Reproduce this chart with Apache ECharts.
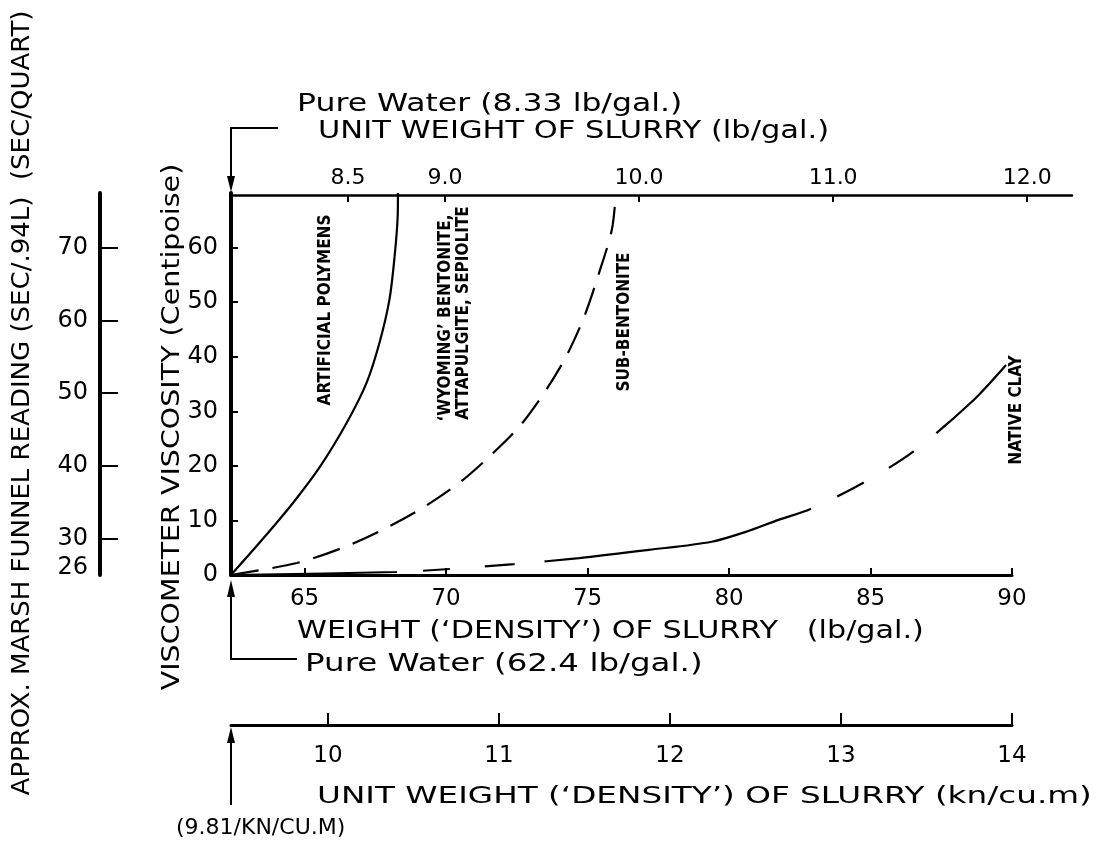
<!DOCTYPE html>
<html>
<head>
<meta charset="utf-8">
<script src="https://cdn.jsdelivr.net/npm/echarts@6/dist/echarts.min.js"></script>
<style>html,body{margin:0;padding:0;background:#fff}#c{width:1098px;height:848px}</style>
</head>
<body>
<div id="c"></div>
<script>
// ---- tick labels ----
const densityTicks = [65, 70, 75, 80, 85, 90];          // bottom axis (lb/ft3, labelled as in source)
const viscosityTicks = [0, 10, 20, 30, 40, 50, 60];     // viscometer viscosity (cP)
const unitWeightGalTicks = [8.5, 9.0, 10.0, 11.0, 12.0];// top axis (lb/gal)
const unitWeightKnTicks = [10, 11, 12, 13, 14];         // kN/cu.m axis
const marshTicks = [26, 30, 40, 50, 60, 70];            // Marsh funnel (sec)

// ---- series values [density, viscosity] ----
const artificialPolymers = [[62.4,0],[63.49,6.4],[64.59,13.2],[65.54,19.8],[66.49,27.9],[67.19,35.2],[67.65,42.6],[68.0,50.5],[68.18,58.3],[68.29,65.7],[68.3,70]];
const wyomingBentonite = [[62.4,0],[64.73,2.2],[66.35,5.0],[67.76,8.3],[69.17,12.3],[70.47,16.9],[71.53,21.7],[72.59,27.2],[73.47,33.4],[74.24,40.0],[74.88,47.3],[75.41,55.4],[75.86,63.3],[76.0,70]];
const nativeClay = [[62.4,0],[68.25,0.55],[70.12,1.1],[72.41,2.0],[74.70,3.1],[77.17,4.6],[79.39,6.1],[80.59,7.9],[81.75,10.1],[82.88,12.1],[84.75,16.9],[86.51,22.6],[88.55,31.6],[89.79,38.5]];

const FF = "'DejaVu Sans', sans-serif";
const FB = "'Liberation Sans Narrow', 'DejaVu Sans Condensed', 'DejaVu Sans', sans-serif";
const K = '#000';

function axisCommon(ticks, tickVals, opts) {
  return Object.assign({
    type: 'value',
    axisLine: { show: true, onZero: false, lineStyle: { color: K, width: 3 } },
    axisTick: { show: true, inside: true, length: 7, customValues: tickVals, lineStyle: { color: K, width: 2 } },
    axisLabel: { customValues: ticks, color: K, fontFamily: FF, fontSize: 22 },
    splitLine: { show: false }
  }, opts);
}

function txt(x, y, text, font, align, rot, sx) {
  return {
    type: 'text', x: x, y: y, rotation: rot || 0, scaleX: sx || 1, silent: true,
    style: { text: text, font: font, fill: K, align: align || 'left', verticalAlign: 'middle',
             textAlign: align || 'left', textVerticalAlign: 'middle' }
  };
}

const chart = echarts.init(document.getElementById('c'), null, { renderer: 'canvas' });

const R = Math.PI / 2;
chart.setOption({
  backgroundColor: '#fff',
  animation: false,
  grid: [
    { left: 231, top: 193, width: 781, height: 382 },  // main plot
    { left: 231, top: 195, width: 841, height: 1 },    // top lb/gal axis
    { left: 231, top: 724, width: 781, height: 1 },    // kN/cu.m axis
    { left: 100, top: 193, width: 1, height: 382 }     // Marsh funnel axis
  ],
  xAxis: [
    (function () { const a = axisCommon(densityTicks, densityTicks, { gridIndex: 0, min: 62.4, max: 90, position: 'bottom' });
      a.axisLabel.margin = 13; a.axisLabel.fontSize = 23; return a; })(),
    (function () { const a = axisCommon(unitWeightGalTicks, unitWeightGalTicks, { gridIndex: 1, min: 7.897, max: 12.231, position: 'top' });
      a.axisLabel.margin = 6; a.axisLabel.fontSize = 22; a.axisLine.lineStyle.width = 2.5;
      a.axisLabel.formatter = v => Number(v).toFixed(1); return a; })(),
    (function () { const a = axisCommon(unitWeightKnTicks, unitWeightKnTicks, { gridIndex: 2, min: 9.433, max: 14, position: 'bottom' });
      a.axisLabel.margin = 20; a.axisLabel.fontSize = 23; a.axisTick.length = 12; return a; })(),
    { gridIndex: 3, type: 'value', show: false, min: 0, max: 1 }
  ],
  yAxis: [
    (function () { const a = axisCommon(viscosityTicks, viscosityTicks.slice(1), { gridIndex: 0, min: 0, max: 70, position: 'left' });
      a.axisLabel.margin = 13; a.axisLabel.fontSize = 24; a.axisLine.lineStyle.width = 4; return a; })(),
    (function () { const a = axisCommon(marshTicks, marshTicks.slice(1), { gridIndex: 3, min: 25, max: 77.5, position: 'left' });
      a.axisLabel.margin = 12; a.axisLabel.fontSize = 24; a.axisTick.length = 18; a.axisLine.lineStyle.width = 4; return a; })(),
    { gridIndex: 1, type: 'value', show: false, min: 0, max: 1 },
    { gridIndex: 2, type: 'value', show: false, min: 0, max: 1 }
  ],
  series: [
    { name: 'Artificial polymers', type: 'line', xAxisIndex: 0, yAxisIndex: 0, data: artificialPolymers,
      smooth: 0.3, showSymbol: false, symbol: 'none', lineStyle: { color: K, width: 2.2 } },
    { name: 'Wyoming bentonite', type: 'line', xAxisIndex: 0, yAxisIndex: 0, data: wyomingBentonite,
      smooth: 0.3, showSymbol: false, symbol: 'none', lineStyle: { color: K, width: 2.2, type: [28, 14] } },
    { name: 'Native clay', type: 'line', xAxisIndex: 0, yAxisIndex: 0, data: nativeClay,
      smooth: 0.3, showSymbol: false, symbol: 'none',
      lineStyle: { color: K, width: 2.2, type: [166, 26, 27, 35, 30, 30, 273, 29, 30, 29, 30, 29, 140] } }
  ],
  graphic: [
    txt(22, 403, 'APPROX. MARSH FUNNEL READING (SEC/.94L)  (SEC/QUART)', '25px ' + FF, 'center', R, 1.04),
    txt(172, 427, 'VISCOMETER VISCOSITY (Centipoise)', '25px ' + FF, 'center', R, 1.14),
    txt(297, 104, 'Pure Water (8.33 lb/gal.)', '25px ' + FF, 'left', 0, 1.26),
    txt(318, 131, 'UNIT WEIGHT OF SLURRY (lb/gal.)', '25px ' + FF, 'left', 0, 1.22),
    txt(297, 631, 'WEIGHT (\u2018DENSITY\u2019) OF SLURRY   (lb/gal.)', '25px ' + FF, 'left', 0, 1.21),
    txt(305, 664, 'Pure Water (62.4 lb/gal.)', '25px ' + FF, 'left', 0, 1.3),
    txt(317, 797, 'UNIT WEIGHT (\u2018DENSITY\u2019) OF SLURRY (kn/cu.m)', '23px ' + FF, 'left', 0, 1.42),
    txt(176, 828, '(9.81/KN/CU.M)', '22px ' + FF),
    txt(326, 310, 'ARTIFICIAL POLYMENS', 'bold 17px ' + FB, 'center', R),
    txt(446, 318, '\u2018WYOMING\u2019 BENTONITE,', 'bold 17px ' + FB, 'center', R),
    txt(464, 313, 'ATTAPULGITE, SEPIOLITE', 'bold 17px ' + FB, 'center', R),
    txt(625, 322, 'SUB-BENTONITE', 'bold 17px ' + FB, 'center', R),
    txt(1017, 410, 'NATIVE CLAY', 'bold 17px ' + FB, 'center', R),
    // arrows
    { type: 'polyline', silent: true, shape: { points: [[278, 128], [231, 128], [231, 182]] }, style: { stroke: K, lineWidth: 2, fill: null } },
    { type: 'polygon', silent: true, shape: { points: [[227, 176], [235, 176], [231, 192]] }, style: { fill: K } },
    { type: 'polyline', silent: true, shape: { points: [[297, 659], [231, 659], [231, 592]] }, style: { stroke: K, lineWidth: 2, fill: null } },
    { type: 'polygon', silent: true, shape: { points: [[227, 597], [235, 597], [231, 580]] }, style: { fill: K } },
    { type: 'polyline', silent: true, shape: { points: [[231, 805], [231, 738]] }, style: { stroke: K, lineWidth: 2, fill: null } },
    { type: 'polygon', silent: true, shape: { points: [[227, 743], [235, 743], [231, 727]] }, style: { fill: K } }
  ]
});
</script>
</body>
</html>
